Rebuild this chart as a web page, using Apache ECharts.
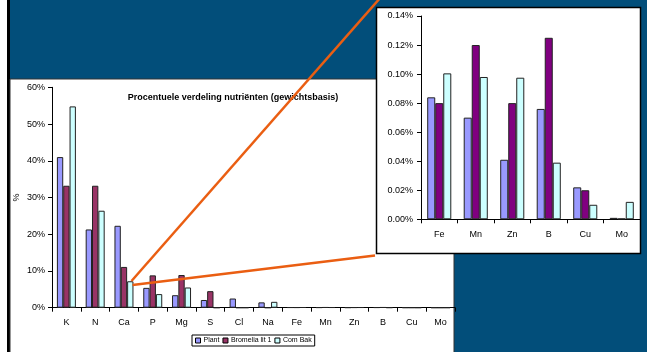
<!DOCTYPE html>
<html>
<head>
<meta charset="utf-8">
<script src="https://cdn.jsdelivr.net/npm/echarts@6/dist/echarts.min.js"></script>
<style>
  html, body { margin: 0; padding: 0; background: #024e7a; }
  #chart { width: 647px; height: 352px; }
</style>
</head>
<body>
<div id="chart"></div>
<script>
// Nutrient shares on a weight basis (%), per source
const categories = ['K', 'N', 'Ca', 'P', 'Mg', 'S', 'Cl', 'Na', 'Fe', 'Mn', 'Zn', 'B', 'Cu', 'Mo'];
const seriesNames = ['Plant', 'Bromelia lit 1', 'Com Bak'];

// Trace elements, shown again in the enlarged panel
const traceCategories = ['Fe', 'Mn', 'Zn', 'B', 'Cu', 'Mo'];
const plantTrace    = [0.084, 0.070, 0.041, 0.076, 0.022, 0.001];
const bromeliaTrace = [0.080, 0.120, 0.080, 0.125, 0.020, 0.0005];
const comBakTrace   = [0.1005, 0.098, 0.0975, 0.039, 0.010, 0.012];

// Macro elements K .. Na
const plantMacro    = [41.0, 21.3, 22.3, 5.4, 3.4, 2.1, 2.5, 1.45];
const bromeliaMacro = [33.2, 33.2, 11.1, 8.8, 8.9, 4.5, 0, 0];
const comBakMacro   = [54.8, 26.4, 7.2, 3.7, 5.5, 0, 0, 1.6];

const plantAll    = plantMacro.concat(plantTrace);
const bromeliaAll = bromeliaMacro.concat(bromeliaTrace);
const comBakAll   = comBakMacro.concat(comBakTrace);

const mainTicks = [0, 60, 10];        // min, max, interval (%)
const insetTicks = [0, 0.14, 0.02];   // min, max, interval (%)

const FONT = '"Liberation Sans", Arial, sans-serif';
const colMain = ['#9999ff', '#993366', '#ccffff'];
const colInset = ['#9999ff', '#800080', '#ccffff'];

const chart = echarts.init(document.getElementById('chart'), null, { renderer: 'canvas' });

function bar(name, data, color, axisIdx) {
  return {
    name: name,
    type: 'bar',
    xAxisIndex: axisIdx,
    yAxisIndex: axisIdx,
    data: data,
    barGap: '0%',
    barCategoryGap: '34%',
    animation: false,
    itemStyle: { color: color, borderColor: '#222', borderWidth: 1 },
    emphasis: { disabled: true }
  };
}

const option = {
  backgroundColor: '#024e7a',
  animation: false,
  textStyle: { fontFamily: FONT, color: '#000' },
  graphic: [
    // slide strip and frame
    { type: 'rect', z: -20, shape: { x: 0, y: 0, width: 7, height: 352 }, style: { fill: '#ffffff' } },
    { type: 'rect', z: -20, shape: { x: 7, y: 0, width: 3, height: 352 }, style: { fill: '#000000' } },
    // slide heading (runs above the visible area)
    { type: 'text', z: -19, left: 34, top: -37,
      style: { text: 'Voeding van gewas', fill: '#ffffff', font: 'bold 38px ' + FONT } },
    // main chart panel
    { type: 'rect', z: -18, shape: { x: 10, y: 79, width: 444, height: 280 },
      style: { fill: '#ffffff', stroke: '#333333', lineWidth: 1 } },
    // enlarged trace-element panel
    { type: 'rect', z: -17, shape: { x: 376.5, y: 7.5, width: 264, height: 246 },
      style: { fill: '#ffffff', stroke: '#000000', lineWidth: 1.5 } },
    // callout lines from the trace region to the enlarged panel
    { type: 'line', z: 50, shape: { x1: 131.5, y1: 281, x2: 381, y2: -3 },
      style: { stroke: '#ea5e12', lineWidth: 2.5 } },
    { type: 'line', z: 50, shape: { x1: 132.5, y1: 285, x2: 375, y2: 255.5 },
      style: { stroke: '#ea5e12', lineWidth: 2.5 } }
  ],
  title: {
    text: 'Procentuele verdeling nutriënten (gewichtsbasis)',
    left: 228, top: 88, textAlign: 'center',
    textStyle: { fontSize: 9, fontWeight: 'bold', color: '#000', fontFamily: FONT }
  },
  legend: {
    data: seriesNames,
    left: 192, top: 335,
    icon: 'rect', itemWidth: 5, itemHeight: 5, itemGap: 3,
    padding: [2, 3, 2, 3],
    borderColor: '#000', borderWidth: 1,
    backgroundColor: '#fff',
    selectedMode: false,
    itemStyle: { borderColor: '#000', borderWidth: 1 },
    textStyle: { fontSize: 7, color: '#000', fontFamily: FONT, padding: [0, 0, 0, -2] }
  },
  grid: [
    { left: 52, right: 192, top: 87.3, bottom: 44.3, containLabel: false },
    { left: 421, right: 7, top: 16, bottom: 132.7, containLabel: false }
  ],
  xAxis: [
    {
      type: 'category', gridIndex: 0, data: categories,
      axisLine: { lineStyle: { color: '#000', width: 1 } },
      axisTick: { show: true, length: 4, lineStyle: { color: '#000' } },
      axisLabel: { fontSize: 9, color: '#000', margin: 10, interval: 0, fontFamily: FONT },
      splitLine: { show: false }
    },
    {
      type: 'category', gridIndex: 1, data: traceCategories,
      axisLine: { lineStyle: { color: '#000', width: 1 } },
      axisTick: { show: true, length: 4, lineStyle: { color: '#000' } },
      axisLabel: { fontSize: 9, color: '#000', margin: 11, interval: 0, fontFamily: FONT },
      splitLine: { show: false }
    }
  ],
  yAxis: [
    {
      type: 'value', gridIndex: 0,
      min: mainTicks[0], max: mainTicks[1], interval: mainTicks[2],
      name: '%', nameLocation: 'middle', nameRotate: 90, nameGap: 31,
      nameMoveOverlap: false,
      nameTextStyle: { fontSize: 9, color: '#000', fontFamily: FONT },
      axisLine: { show: true, lineStyle: { color: '#000', width: 1 } },
      axisTick: { show: true, length: 4, lineStyle: { color: '#000' } },
      axisLabel: { fontSize: 9, color: '#000', margin: 7, formatter: v => v + '%', fontFamily: FONT },
      splitLine: { show: false }
    },
    {
      type: 'value', gridIndex: 1,
      min: insetTicks[0], max: insetTicks[1], interval: insetTicks[2],
      axisLine: { show: true, lineStyle: { color: '#000', width: 1 } },
      axisTick: { show: true, length: 4, lineStyle: { color: '#000' } },
      axisLabel: { fontSize: 9, color: '#000', margin: 8, formatter: v => v.toFixed(2) + '%', fontFamily: FONT },
      splitLine: { show: false }
    }
  ],
  series: [
    bar(seriesNames[0], plantAll, colMain[0], 0),
    bar(seriesNames[1], bromeliaAll, colMain[1], 0),
    bar(seriesNames[2], comBakAll, colMain[2], 0),
    bar(seriesNames[0], plantTrace, colInset[0], 1),
    bar(seriesNames[1], bromeliaTrace, colInset[1], 1),
    bar(seriesNames[2], comBakTrace, colInset[2], 1)
  ]
};

chart.setOption(option);
</script>
</body>
</html>
